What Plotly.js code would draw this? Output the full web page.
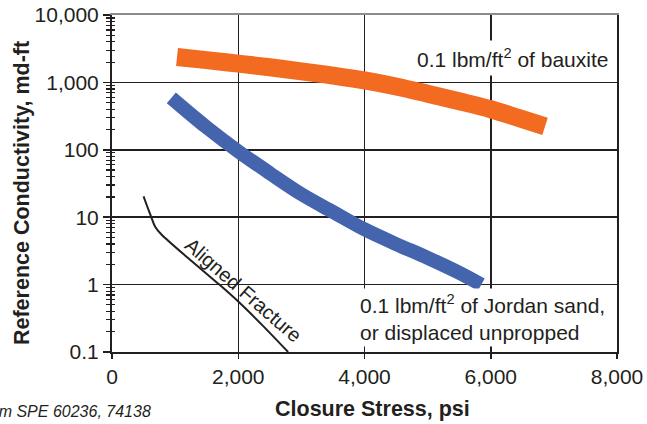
<!DOCTYPE html>
<html>
<head>
<meta charset="utf-8">
<script src="https://cdn.plot.ly/plotly-3.0.1.min.js"></script>
<style>
  html, body { margin: 0; padding: 0; background: #ffffff; }
  #chart { width: 647px; height: 424px; }
</style>
</head>
<body>
<div id="chart"></div>
<script>
// Reference conductivity vs closure stress
const bauxiteStress = [1030, 1500, 2000, 2500, 3000, 3500, 4000, 4500, 5000, 5500, 6000, 6450, 6860];
const bauxiteCond   = [2380, 2140, 1900, 1675, 1460, 1260, 1070, 870, 680, 525, 400, 295, 223];

const jordanStress = [940, 1500, 2000, 2500, 3000, 3500, 4000, 4500, 5000, 5500, 5850];
const jordanCond   = [590, 215, 95, 45, 22, 12, 6.6, 4.0, 2.5, 1.5, 1.0];

const alignedStress = [500, 560, 628, 681, 787, 1200, 1700, 2000, 2400, 2790];
const alignedCond   = [20.3, 14.3, 9.7, 7.3, 5.5, 2.5, 1.0, 0.56, 0.24, 0.1];

const xTickVals = [0, 2000, 4000, 6000, 8000];
const xTickText = ['0', '2,000', '4,000', '6,000', '8,000'];
const yTickVals = [0.1, 1, 10, 100, 1000, 10000];
const yTickText = ['0.1', '1', '10', '100', '1,000', '10,000'];

const INK = '#231f20';
const FONT = 'Liberation Sans, Arial, Helvetica, sans-serif';

// minor ticks at 2..9 within every decade
const yMinor = [];
for (let d = -1; d < 4; d++) {
  for (let m = 2; m <= 9; m++) yMinor.push(m * Math.pow(10, d));
}

const traces = [
  {
    type: 'scatter', mode: 'lines',
    x: bauxiteStress, y: bauxiteCond,
    line: { color: '#f36a21', width: 18, shape: 'spline', smoothing: 1 },
    hoverinfo: 'skip'
  },
  {
    type: 'scatter', mode: 'lines',
    x: jordanStress, y: jordanCond,
    line: { color: '#4464ae', width: 14, shape: 'spline', smoothing: 1 },
    hoverinfo: 'skip'
  },
  {
    type: 'scatter', mode: 'lines',
    x: alignedStress, y: alignedCond,
    line: { color: INK, width: 2, shape: 'spline', smoothing: 0.6 },
    hoverinfo: 'skip'
  },
  // empty traces so the overlay axes (inner tick halves, grey top edge) get drawn
  { type: 'scatter', mode: 'lines', x: [], y: [], xaxis: 'x2', yaxis: 'y2', hoverinfo: 'skip' },
  { type: 'scatter', mode: 'lines', x: [], y: [], xaxis: 'x3', yaxis: 'y2', hoverinfo: 'skip' }
];

const tickFont = { family: FONT, size: 21, color: INK };

const layout = {
  width: 647, height: 424,
  margin: { l: 112, r: 30, t: 15, b: 72 },
  paper_bgcolor: '#ffffff', plot_bgcolor: '#ffffff',
  showlegend: false,
  xaxis: {
    range: [0, 8000],
    tickmode: 'array', tickvals: xTickVals, ticktext: xTickText,
    ticks: 'outside', ticklen: 5, tickwidth: 1.5, tickcolor: INK,
    showgrid: true, gridcolor: INK, gridwidth: 1.5,
    showline: true, linecolor: INK, linewidth: 2, mirror: false,
    zeroline: false, tickfont: tickFont
  },
  yaxis: {
    type: 'log', range: [-1, 4],
    tickmode: 'array', tickvals: yTickVals, ticktext: yTickText,
    ticks: 'outside', ticklen: 7, tickwidth: 1.5, tickcolor: INK,
    minor: { tickmode: 'array', tickvals: yMinor, ticks: 'outside', ticklen: 4, tickwidth: 1.2, tickcolor: INK, showgrid: false },
    showgrid: true, gridcolor: INK, gridwidth: 1.5,
    showline: true, linecolor: INK, linewidth: 2, mirror: true,
    zeroline: false, tickfont: tickFont
  },
  xaxis2: {
    overlaying: 'x', side: 'bottom', range: [0, 8000],
    tickmode: 'array', tickvals: xTickVals,
    ticks: 'inside', ticklen: 5, tickwidth: 1.5, tickcolor: INK,
    showticklabels: false, showgrid: false, showline: false, zeroline: false
  },
  xaxis3: {
    overlaying: 'x', side: 'top', range: [0, 8000],
    ticks: '', showticklabels: false, showgrid: false,
    showline: true, linecolor: '#8c8c8c', linewidth: 2, zeroline: false
  },
  yaxis2: {
    overlaying: 'y', side: 'left', type: 'log', range: [-1, 4],
    tickmode: 'array', tickvals: yTickVals,
    ticks: 'inside', ticklen: 5, tickwidth: 1.5, tickcolor: INK,
    minor: { tickmode: 'array', tickvals: yMinor, ticks: 'inside', ticklen: 3, tickwidth: 1.2, tickcolor: INK, showgrid: false },
    showticklabels: false, showgrid: false, showline: false, zeroline: false
  },
  annotations: [
    {
      xref: 'x', yref: 'y', x: 6342, y: Math.log10(2335),
      xanchor: 'center', yanchor: 'middle',
      text: '0.1 lbm/ft<sup>2</sup> of bauxite',
      showarrow: false, bgcolor: '#ffffff', borderpad: 4,
      font: { family: FONT, size: 21, color: INK }
    },
    {
      xref: 'x', yref: 'y', x: 3880, y: Math.log10(0.33),
      xanchor: 'left', yanchor: 'middle', align: 'left',
      text: '0.1 lbm/ft<sup>2</sup> of Jordan sand,<br>or displaced unpropped',
      showarrow: false, bgcolor: '#ffffff', borderpad: 2,
      font: { family: FONT, size: 21, color: INK }
    },
    {
      xref: 'x', yref: 'y', x: 2079, y: Math.log10(0.83),
      xanchor: 'center', yanchor: 'middle',
      text: 'Aligned Fracture', textangle: 41,
      showarrow: false,
      font: { family: FONT, size: 20, color: INK }
    },
    {
      xref: 'paper', yref: 'paper', x: -0.178, y: 0.472,
      xanchor: 'center', yanchor: 'middle',
      text: '<b>Reference Conductivity, md-ft</b>', textangle: -90,
      showarrow: false,
      font: { family: FONT, size: 21.5, color: INK }
    },
    {
      xref: 'paper', yref: 'paper', x: 0.515, y: -0.169,
      xanchor: 'center', yanchor: 'middle',
      text: '<b>Closure Stress, psi</b>',
      showarrow: false,
      font: { family: FONT, size: 21.5, color: INK }
    },
    {
      xref: 'paper', yref: 'paper', x: 0.081, y: -0.178,
      xanchor: 'right', yanchor: 'middle',
      text: '<i>from SPE 60236, 74138</i>',
      showarrow: false,
      font: { family: FONT, size: 16, color: INK }
    }
  ]
};

Plotly.newPlot('chart', traces, layout, { staticPlot: true, displayModeBar: false });
</script>
</body>
</html>
